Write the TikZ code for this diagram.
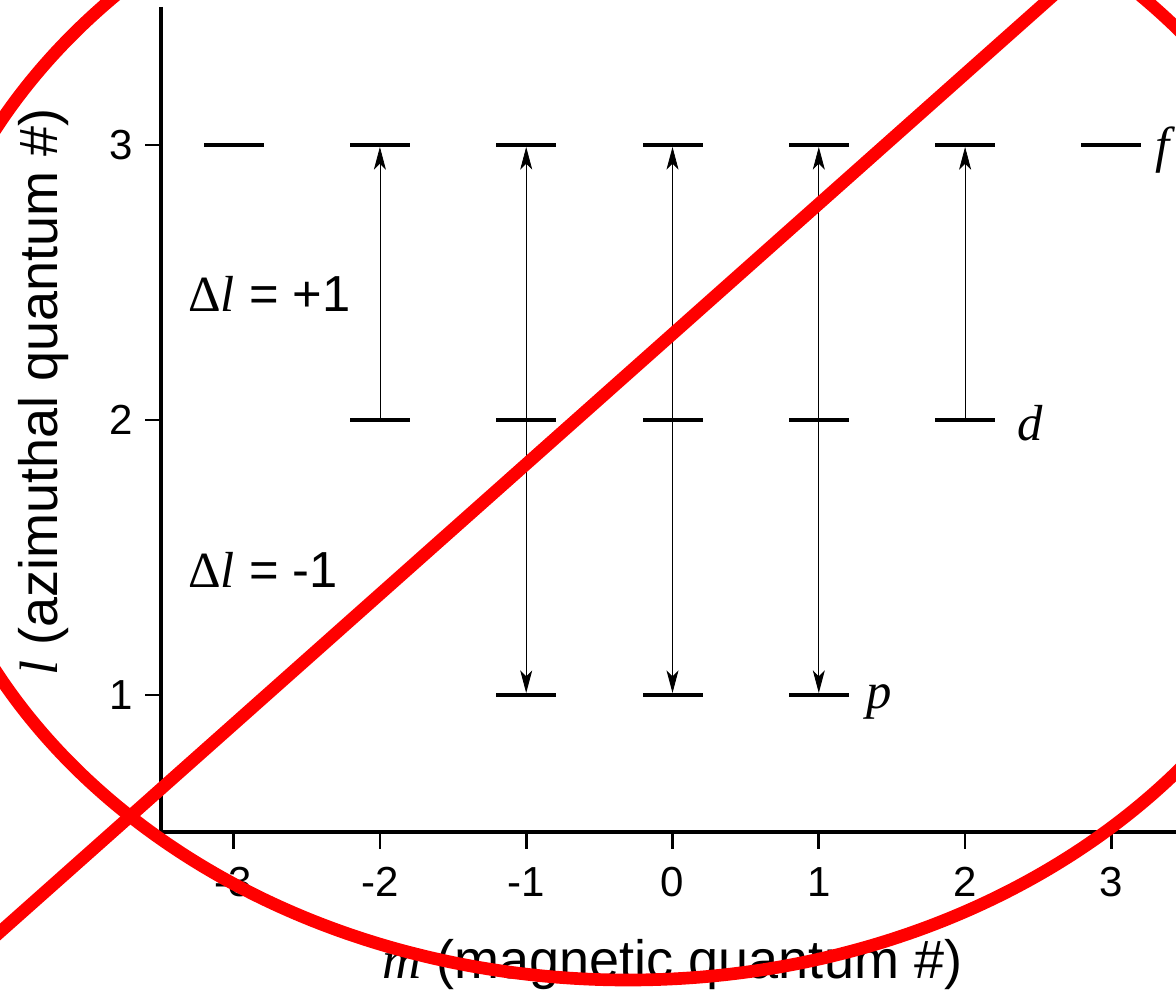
\documentclass[tikz,border=0pt]{standalone}
\usepackage{fontspec}
\setmainfont{Liberation Sans}
\newfontfamily\tms{Liberation Serif}
\usetikzlibrary{arrows.meta}
\begin{document}
\begin{tikzpicture}[x=0.75pt,y=-0.75pt,
  level/.style={rectangle,fill=black,minimum width=45pt,minimum height=3pt,inner sep=0pt,outer sep=0pt},
  uparrow/.style={line width=0.55pt,-{Stealth[length=17pt,width=9pt,inset=4.5pt]}},
  downarrow/.style={line width=0.75pt,-{Stealth[length=17pt,width=9pt,inset=4.5pt]}},
  axis/.style={line width=2.5pt},
  tick/.style={line width=2pt},
  ticklab/.style={inner sep=0pt,font=\fontsize{31.5pt}{36pt}\selectfont},
  lab/.style={inner sep=0pt,font=\fontsize{38pt}{44pt}\selectfont},
  orb/.style={inner sep=0pt,font=\fontsize{38pt}{44pt}\selectfont\tms\itshape},
  ttl/.style={inner sep=0pt,font=\fontsize{40.5pt}{46pt}\selectfont},
  nosign/.style={draw=red,line width=9.5pt}]
\useasboundingbox (0,0) rectangle (1176,991);
\clip (0,0) rectangle (1176,991);
% axes
\coordinate (top) at (161,7);
\coordinate (orig) at (161,832);
\coordinate (right) at (1180,832);
\draw[axis] (top) -- (orig) -- (right);
% y ticks
\foreach \y/\t in {145/3,420/2,695/1}{
  \coordinate (yt\t) at (145,\y);
  \coordinate (ya\t) at (161,\y);
  \draw[tick] (yt\t) -- (ya\t);
  \node[ticklab,anchor=east] (ylab\t) at (133,\y) {\t};
}
% x ticks
\foreach \x/\t/\n in {233.6/-3/a,379.9/-2/b,526.2/-1/c,672.5/0/d,818.8/1/e,965.1/2/f,1111.4/3/g}{
  \coordinate (xa\n) at (\x,832);
  \coordinate (xt\n) at (\x,849);
  \draw[tick] (xa\n) -- (xt\n);
  \node[ticklab,anchor=north] (xlab\n) at (\x,867) {\t};
}
% levels l=3
\foreach \x/\n in {233.6/a,379.9/b,526.2/c,672.5/d,818.8/e,965.1/f,1111.4/g}{
  \node[level] (L3\n) at (\x,145) {};
}
% levels l=2
\foreach \x/\n in {379.9/b,526.2/c,672.5/d,818.8/e,965.1/f}{
  \node[level] (L2\n) at (\x,420) {};
}
% levels l=1
\foreach \x/\n in {526.2/c,672.5/d,818.8/e}{
  \node[level] (L1\n) at (\x,695) {};
}
% transitions
\foreach \n in {b,c,d,e,f}{
  \draw[uparrow] (L2\n.north) -- (L3\n.south);
}
\foreach \n in {c,d,e}{
  \draw[downarrow] (L2\n.south) -- (L1\n.north);
}
% orbital labels
\node[orb,anchor=base west] (fl) at (1155,163) {f};
\node[orb,anchor=base west] (dl) at (1017,440) {d};
\node[orb,anchor=base west] (pl) at (866,708) {p};
% delta labels
\node[lab,anchor=base west] (dp) at (188,311) {{\tms Δ\itshape l} = +1};
\node[lab,anchor=base west] (dm) at (188,587) {{\tms Δ\itshape l} = -1};
% axis titles
\node[ttl,anchor=base] (xt) at (672.5,978) {{\tms\itshape m} (magnetic quantum \#)};
\node[ttl,anchor=base,rotate=90] (yt) at (57,392) {{\tms\itshape l} (azimuthal quantum \#)};
% prohibition sign
\draw[nosign] (628,400) ellipse [x radius=536.25pt, y radius=435pt];
\draw[nosign] (-100,1020.9) -- (1150,-90.6);
\end{tikzpicture}
\end{document}
